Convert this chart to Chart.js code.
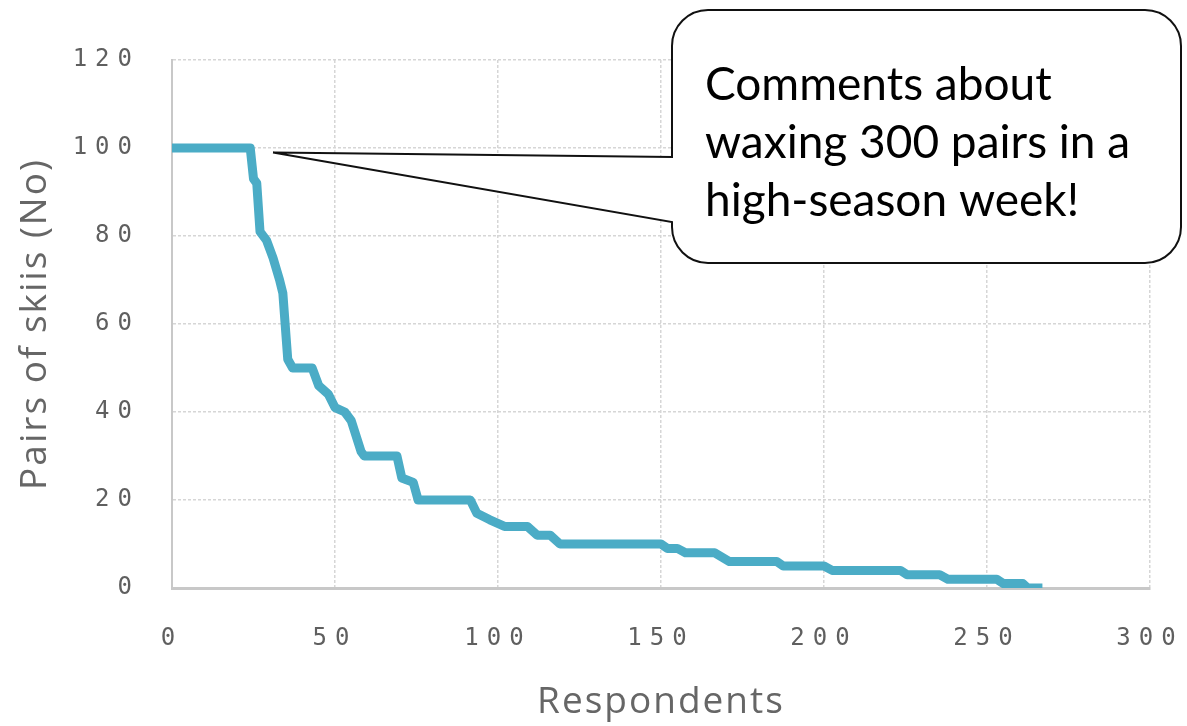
<!DOCTYPE html>
<html>
<head>
<meta charset="utf-8">
<script src="https://cdn.jsdelivr.net/npm/chart.js@4.4.1/dist/chart.umd.min.js"></script>
<style>
  html, body { margin: 0; padding: 0; background: #fff; }
  #wrap { width: 1187px; height: 726px; position: relative; }
</style>
</head>
<body>
<div id="wrap"><canvas id="skiChart"></canvas></div>
<script>
// respondents sorted by pairs of skis waxed per week
const respondents = [0, 24, 25, 26, 27, 29, 31, 33, 34, 35.5,
    37, 43, 45, 48, 50, 53, 55, 58, 59, 69,
    70.5, 74, 75.5, 91.5, 93.5, 97.5, 102, 109, 112, 116,
    119, 150, 152, 155, 157.5, 166.5, 171, 185.5, 187.5, 200,
    202.5, 223.5, 225.5, 235.5, 238, 253, 255, 261, 262.5, 267];
const pairs = [100, 100, 93, 92, 81, 79, 75, 70, 67, 52,
    50, 50, 46, 44, 41, 40, 38, 31, 30, 30,
    25, 24, 20, 20, 17, 15.5, 14, 14, 12, 12,
    10, 10, 9, 9, 8, 8, 6, 6, 5, 5,
    4, 4, 3, 3, 2, 2, 1, 1, 0, 0];

const xTicks = [0, 50, 100, 150, 200, 250, 300];
const yTicks = [0, 20, 40, 60, 80, 100, 120];

const calloutLines = ['Comments about', 'waxing 300 pairs in a', 'high-season week!'];
const calloutTip = [31, 99];   // respondent, pairs the callout points at

const spacingPlugin = {
    id: 'spacing',
    beforeUpdate(chart) {
        chart.ctx.letterSpacing = '2px';
    },
    beforeDraw(chart) {
        chart.ctx.letterSpacing = '2px';
        Object.values(chart.scales).forEach(scale => {
            if (scale._wideLabels) return;
            const orig = scale.drawLabels;
            scale.drawLabels = function (area) {
                this.ctx.save();
                this.ctx.letterSpacing = '8px';
                orig.call(this, area);
                this.ctx.restore();
            };
            scale._wideLabels = true;
        });
    }
};

const calloutPlugin = {
    id: 'callout',
    afterDraw(chart) {
        const { ctx, scales: { x, y } } = chart;
        const tipX = x.getPixelForValue(calloutTip[0]);
        const tipY = y.getPixelForValue(calloutTip[1]);
        const L = 672, T = 10, R = 1181, B = 263, r = 36;
        ctx.save();
        ctx.letterSpacing = '0px';
        ctx.beginPath();
        ctx.moveTo(L, 157);
        ctx.lineTo(L, T + r);
        ctx.arcTo(L, T, L + r, T, r);
        ctx.lineTo(R - r, T);
        ctx.arcTo(R, T, R, T + r, r);
        ctx.lineTo(R, B - r);
        ctx.arcTo(R, B, R - r, B, r);
        ctx.lineTo(L + r, B);
        ctx.arcTo(L, B, L, B - r, r);
        ctx.lineTo(L, 222);
        ctx.lineTo(tipX, tipY);
        ctx.closePath();
        ctx.fillStyle = '#fff';
        ctx.fill();
        ctx.lineWidth = 2;
        ctx.strokeStyle = '#111';
        ctx.stroke();
        ctx.fillStyle = '#000';
        ctx.font = '46px Lato';
        ctx.textBaseline = 'alphabetic';
        ctx.textAlign = 'left';
        calloutLines.forEach((line, i) => ctx.fillText(line, 705, 100 + i * 58));
        ctx.restore();
    }
};

const tickFont = { family: 'DejaVu Sans Mono', size: 24 };
const titleFont = { family: 'Open Sans', size: 37 };

new Chart(document.getElementById('skiChart'), {
    type: 'line',
    data: {
        datasets: [{
            data: respondents.map((r, i) => ({ x: r, y: pairs[i] })),
            borderColor: '#4bacc6',
            borderWidth: 9,
            borderJoinStyle: 'round',
            pointRadius: 0,
            tension: 0,
            fill: false
        }]
    },
    options: {
        responsive: true,
        maintainAspectRatio: false,
        animation: false,
        layout: { padding: { left: 0, right: 37, top: 60, bottom: 0 } },
        plugins: {
            legend: { display: false },
            tooltip: { enabled: false }
        },
        scales: {
            x: {
                type: 'linear',
                min: 0,
                max: 300,
                afterBuildTicks(scale) { scale.ticks = xTicks.map(v => ({ value: v })); },
                ticks: { color: '#5f5f5f', font: tickFont, padding: 36, maxRotation: 0 },
                grid: { color: '#d6d6d6', lineWidth: 1.5, drawTicks: false },
                border: { color: '#c8c8c8', width: 3, dash: [3, 2] },
                title: {
                    display: true, text: 'Respondents', color: '#666',
                    font: titleFont, padding: { top: 0, bottom: 1 }
                },
                afterFit(scale) {
                    scale.height = 138;
                    scale.paddingLeft = 0;
                    scale.paddingRight = 0;
                }
            },
            y: {
                min: 0,
                max: 120,
                afterBuildTicks(scale) { scale.ticks = yTicks.map(v => ({ value: v })); },
                ticks: { color: '#5f5f5f', font: tickFont, padding: 32 },
                grid: { color: '#d6d6d6', lineWidth: 1.5, drawTicks: false },
                border: { color: '#c8c8c8', width: 2, dash: [3, 2] },
                title: {
                    display: true, text: 'Pairs of skiis (No)', color: '#666',
                    font: titleFont, padding: { top: 13, bottom: 0 }
                },
                afterFit(scale) { scale.width = 172; }
            }
        }
    },
    plugins: [spacingPlugin, calloutPlugin]
});
</script>
</body>
</html>
